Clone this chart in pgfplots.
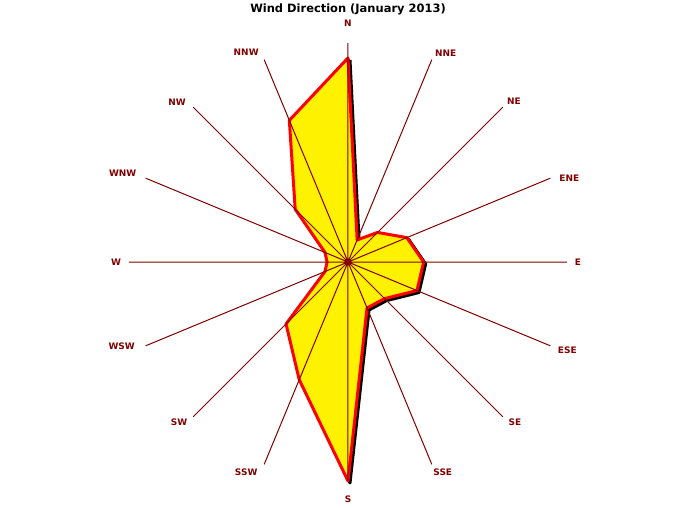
\documentclass[border=0pt]{standalone}
\usepackage{pgfplots}
\pgfplotsset{compat=1.18}
\usepgfplotslibrary{polar}
\usepackage{fontspec}
\setmainfont{DejaVu Sans}
\definecolor{darkred}{HTML}{800000}
\def\lblx{{11,19,11,14,0,-18,-16,-23,-13,-24,-14,-18,0,11,12,17}}
\def\lbly{{0,0,6,6,20,7,5,5,0,0,-5,-8,-18,-8,-5,-4}}
\begin{document}
\begin{tikzpicture}
\path[use as bounding box] (-348bp,262bp) rectangle (348bp,-246bp);
\begin{polaraxis}[
  at={(0,0)}, anchor=center,
  scale only axis, width=438bp, height=438bp,
  ymin=0, ymax=220,
  axis line style={draw=none},
  ytick=\empty,
  xtick={0,22.5,...,337.5},
  xticklabels={E,ENE,NE,NNE,N,NNW,NW,WNW,W,WSW,SW,SSW,S,SSE,SE,ESE},
  xtick style={draw=none},
  xmajorgrids,
  major grid style={color=darkred, line width=1bp},
  xticklabel style={font=\bfseries\fontsize{9}{10}\selectfont, text=darkred, anchor=center, inner sep=0pt,
    xshift=\lblx[\ticknum]*1bp, yshift=\lbly[\ticknum]*1bp},
  axis on top,
  clip=false,
]
\addplot[draw=black, line width=3bp, line join=round, xshift=2bp, yshift=-2bp] coordinates {
 (90,205) (67.5,24) (45,42) (22.5,64) (0,76) (337.5,75) (315,52) (292.5,50)
 (270,220) (247.5,128) (225,88) (202.5,25) (180,21) (157.5,25) (135,75) (112.5,154) (90,205)};
\addplot[draw=red, fill=yellow, line width=3bp, line join=round] coordinates {
 (90,205) (67.5,24) (45,42) (22.5,64) (0,76) (337.5,75) (315,52) (292.5,50)
 (270,220) (247.5,128) (225,88) (202.5,25) (180,21) (157.5,25) (135,75) (112.5,154) (90,205)} -- cycle;
\addplot[only marks, mark=*, mark size=3bp, color=darkred] coordinates {(0,0)};
\end{polaraxis}
\node[font=\bfseries\fontsize{11.5}{13}\selectfont, text=black] at (0,253bp) {Wind Direction (January 2013)};
\end{tikzpicture}
\end{document}
